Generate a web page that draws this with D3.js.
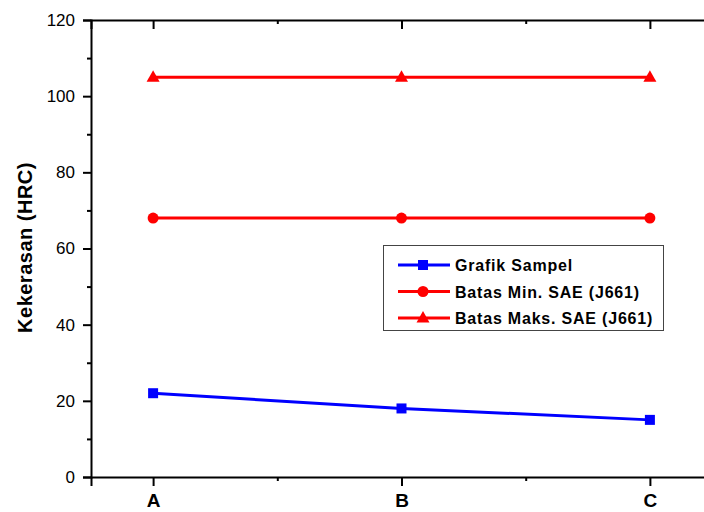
<!DOCTYPE html>
<html><head><meta charset="utf-8">
<script src="https://cdn.jsdelivr.net/npm/d3@7"></script>
<style>body{margin:0;background:#fff}svg{display:block}text{font-family:"Liberation Sans",Arial,sans-serif}</style>
</head><body><svg id="c" width="704" height="512"></svg>
<script>
const categories = ["A", "B", "C"];
const sampel = [22, 18, 15];
const batasMin = [68, 68, 68];
const batasMaks = [105, 105, 105];
const yTicks = [0, 20, 40, 60, 80, 100, 120];
const seriesNames = ["Grafik Sampel", "Batas Min. SAE (J661)", "Batas Maks. SAE (J661)"];

const svg = d3.select("#c");
const L = 91, R = 712, T = 20, B = 477;
const x = d3.scaleLinear().domain([0.75, 3.25]).range([L, R]);
const y = d3.scaleLinear().domain([0, 120]).range([B, T]);
const xi = categories.map((c, i) => i + 1);

// axes
const gL = svg.append("g").attr("transform", `translate(${L},0)`)
  .call(d3.axisLeft(y).tickValues(yTicks).tickSize(8).tickPadding(8));
const gLm = svg.append("g").attr("transform", `translate(${L},0)`)
  .call(d3.axisLeft(y).tickValues(d3.range(10, 120, 20)).tickSize(4).tickFormat(""));
const gB = svg.append("g").attr("transform", `translate(0,${B})`)
  .call(d3.axisBottom(x).tickValues(xi).tickFormat((d, i) => categories[i]).tickSize(9).tickPadding(8));
const gBm = svg.append("g").attr("transform", `translate(0,${B})`)
  .call(d3.axisBottom(x).tickValues([1.5, 2.5]).tickSize(4).tickFormat(""));
const gT = svg.append("g").attr("transform", `translate(0,${T})`)
  .call(d3.axisBottom(x).tickValues(xi).tickSize(9).tickFormat(""));
const gTm = svg.append("g").attr("transform", `translate(0,${T})`)
  .call(d3.axisBottom(x).tickValues([1.5, 2.5]).tickSize(4).tickFormat(""));
const gR = svg.append("g").attr("transform", `translate(${R},0)`)
  .call(d3.axisLeft(y).tickValues(yTicks).tickSize(8).tickFormat(""));
const gRm = svg.append("g").attr("transform", `translate(${R},0)`)
  .call(d3.axisLeft(y).tickValues(d3.range(10, 120, 20)).tickSize(4).tickFormat(""));
[gL, gLm, gB, gBm, gT, gTm, gR, gRm].forEach(g => {
  g.select(".domain").attr("stroke", "#000").attr("stroke-width", 2);
  g.selectAll(".tick line").attr("stroke", "#000").attr("stroke-width", 2);
});
[gLm, gBm, gTm, gRm].forEach(g => g.select(".domain").remove());
gL.selectAll(".tick text").attr("font-size", 17).attr("fill", "#000");
gB.selectAll(".tick text").attr("font-size", 19).attr("font-weight", "bold").attr("fill", "#000");

svg.append("text").attr("transform", `translate(32,${(T + B) / 2 - 1}) rotate(-90)`)
  .attr("text-anchor", "middle").attr("font-size", 20).attr("letter-spacing", 0.5)
  .attr("font-weight", "bold").text("Kekerasan (HRC)");

const line = d3.line().x((d, i) => x(xi[i])).y(d => y(d));
const series = [
  { data: sampel, color: "#0000FF", marker: "square" },
  { data: batasMin, color: "#FF0000", marker: "circle" },
  { data: batasMaks, color: "#FF0000", marker: "triangle" }
];
function drawMarker(g, type, cx, cy, color) {
  if (type === "square") g.append("rect").attr("x", cx - 5).attr("y", cy - 5).attr("width", 10).attr("height", 10).attr("fill", color);
  else if (type === "circle") g.append("circle").attr("cx", cx).attr("cy", cy).attr("r", 5.5).attr("fill", color);
  else g.append("path").attr("d", `M${cx},${cy - 7}L${cx + 6.5},${cy + 4.5}L${cx - 6.5},${cy + 4.5}Z`).attr("fill", color);
}
series.forEach(s => {
  svg.append("path").attr("d", line(s.data)).attr("fill", "none").attr("stroke", s.color).attr("stroke-width", 3);
  const g = svg.append("g");
  s.data.forEach((d, i) => drawMarker(g, s.marker, x(xi[i]), y(d), s.color));
});

// legend
const lg = svg.append("g");
lg.append("rect").attr("x", 383.5).attr("y", 245.5).attr("width", 280).attr("height", 85)
  .attr("fill", "#fff").attr("stroke", "#444").attr("stroke-width", 1);
series.forEach((s, i) => {
  const cy = 265 + i * 26.5;
  lg.append("line").attr("x1", 398).attr("x2", 450).attr("y1", cy).attr("y2", cy).attr("stroke", s.color).attr("stroke-width", 3);
  drawMarker(lg, s.marker, 423, cy, s.color);
  lg.append("text").attr("x", 455).attr("y", cy + 6).attr("font-size", 16).attr("letter-spacing", 0.8)
    .attr("font-weight", "bold").text(seriesNames[i]);
});
</script></body></html>
